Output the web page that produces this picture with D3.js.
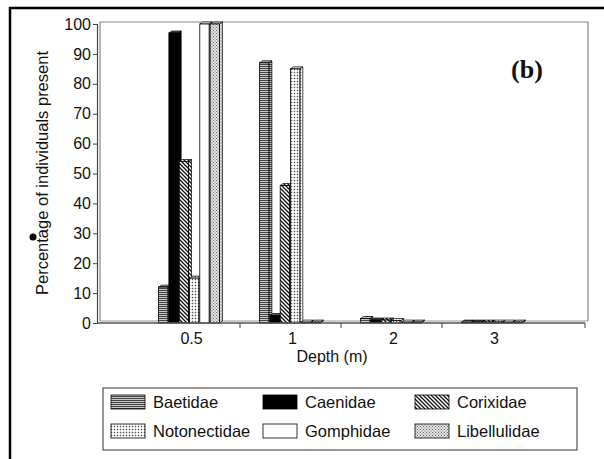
<!DOCTYPE html>
<html>
<head>
<meta charset="utf-8">
<script src="https://cdn.jsdelivr.net/npm/d3@7"></script>
<style>
  body { margin: 0; background: #fff; }
  svg text { font-family: "Liberation Sans", Arial, sans-serif; fill: #111; }
</style>
</head>
<body>
<div id="chart"></div>
<script>
'use strict';

// depth categories and the six families
const depths = ["0.5", "1", "2", "3"];
const families = ["Baetidae", "Caenidae", "Corixidae", "Notonectidae", "Gomphidae", "Libellulidae"];

// percentage of individuals present, one value per depth
const baetidae = [12, 87, 1.5, 0.3];
const caenidae = [97, 2.5, 1, 0.3];
const corixidae = [54, 46, 1, 0.3];
const notonectidae = [15, 85, 0.8, 0.3];
const gomphidae = [100, 0.3, 0.3, 0.3];
const libellulidae = [100, 0.3, 0.3, 0.3];

const yTicks = [0, 10, 20, 30, 40, 50, 60, 70, 80, 90, 100];

const series = [baetidae, caenidae, corixidae, notonectidae, gomphidae, libellulidae];
const fills = ["url(#hlines)", "#000", "url(#diag)", "url(#grid)", "#fff", "url(#stipple)"];

const width = 604, height = 459;
const plot = { left: 97, right: 588, top: 22, bottom: 323 };

const svg = d3.select("#chart").append("svg")
    .attr("width", width)
    .attr("height", height);

// patterns
const defs = svg.append("defs");
const pH = defs.append("pattern").attr("id", "hlines").attr("patternUnits", "userSpaceOnUse")
    .attr("width", 4).attr("height", 2);
pH.append("rect").attr("width", 4).attr("height", 2).attr("fill", "#c8c8c8");
pH.append("rect").attr("width", 4).attr("height", 1).attr("fill", "#444");

const pD = defs.append("pattern").attr("id", "diag").attr("patternUnits", "userSpaceOnUse")
    .attr("width", 4).attr("height", 4);
pD.append("rect").attr("width", 4).attr("height", 4).attr("fill", "#fff");
pD.append("path").attr("d", "M-1,-1 L5,5 M3,-1 L5,1 M-1,3 L1,5").attr("stroke", "#111").attr("stroke-width", 1.3);

const pG = defs.append("pattern").attr("id", "grid").attr("patternUnits", "userSpaceOnUse")
    .attr("width", 3).attr("height", 3);
pG.append("rect").attr("width", 3).attr("height", 3).attr("fill", "#fff");
pG.append("rect").attr("width", 3).attr("height", 0.6).attr("fill", "#bbb");
pG.append("rect").attr("width", 0.6).attr("height", 3).attr("fill", "#bbb");
pG.append("rect").attr("width", 1).attr("height", 1).attr("fill", "#555");

const pS = defs.append("pattern").attr("id", "stipple").attr("patternUnits", "userSpaceOnUse")
    .attr("width", 3).attr("height", 3);
pS.append("rect").attr("width", 3).attr("height", 3).attr("fill", "#e4e4e4");
pS.append("rect").attr("width", 1).attr("height", 1).attr("fill", "#666");
pS.append("rect").attr("x", 1.5).attr("y", 1.5).attr("width", 1).attr("height", 1).attr("fill", "#666");

// outer frame
svg.append("path")
    .attr("d", `M10,${height} L10,8 L${width},8`)
    .attr("fill", "none")
    .attr("stroke", "#000")
    .attr("stroke-width", 2.5);

// scales
const x0 = d3.scaleBand().domain(depths).range([139, 543]).paddingInner(0);
const x1 = d3.scaleBand().domain(families).range([0, x0.bandwidth()]).paddingOuter(1.9);
const y = d3.scaleLinear().domain([0, 100]).range([plot.bottom, plot.top + 2]);

// back wall
svg.append("path")
    .attr("d", `M${plot.left + 3},${plot.bottom - 2} L${plot.left + 3},${plot.top} L${plot.right},${plot.top} L${plot.right},${plot.bottom - 2}`)
    .attr("fill", "none")
    .attr("stroke", "#888")
    .attr("stroke-width", 1.2);
// floor
svg.append("line")
    .attr("x1", plot.left + 3).attr("x2", plot.right)
    .attr("y1", plot.bottom - 2).attr("y2", plot.bottom - 2)
    .attr("stroke", "#999");

// bars with 3D depth
const dx = 3, dy = -2;
const bw = x1.bandwidth() - 1;
const bars = svg.append("g").attr("class", "bars");
depths.forEach((dep, i) => {
    families.forEach((fam, j) => {
        const v = series[j][i];
        const xl = x0(dep) + x1(fam);
        const yt = y(v);
        const yb = y(0);
        const g = bars.append("g");
        // side
        g.append("path")
            .attr("d", `M${xl + bw},${yb} L${xl + bw + dx},${yb + dy} L${xl + bw + dx},${yt + dy} L${xl + bw},${yt} Z`)
            .attr("fill", fills[j]).attr("stroke", "#000").attr("stroke-width", 0.7);
        // top
        g.append("path")
            .attr("d", `M${xl},${yt} L${xl + dx},${yt + dy} L${xl + bw + dx},${yt + dy} L${xl + bw},${yt} Z`)
            .attr("fill", j === 1 ? "#555" : fills[j]).attr("stroke", "#000").attr("stroke-width", 0.7);
        // front
        g.append("rect")
            .attr("x", xl).attr("y", yt)
            .attr("width", bw).attr("height", yb - yt)
            .attr("fill", fills[j]).attr("stroke", "#000").attr("stroke-width", 0.8);
    });
});

// y axis
const yAxis = d3.axisLeft(y).tickValues(yTicks).tickSize(4).tickPadding(2);
const gy = svg.append("g")
    .attr("transform", `translate(${plot.left},0)`)
    .call(yAxis);
gy.select(".domain").attr("stroke", "#444").attr("stroke-width", 1.2);
gy.selectAll(".tick line").attr("stroke", "#444");
gy.selectAll(".tick text").attr("font-size", 16).style("fill", "#111");

// x axis
svg.append("line")
    .attr("x1", plot.left).attr("x2", plot.right - 3)
    .attr("y1", plot.bottom).attr("y2", plot.bottom)
    .attr("stroke", "#555").attr("stroke-width", 1.4);
svg.append("g").selectAll("line")
    .data(depths.slice(0, 3))
    .join("line")
    .attr("x1", d => x0(d) + x0.bandwidth()).attr("x2", d => x0(d) + x0.bandwidth())
    .attr("y1", plot.bottom).attr("y2", plot.bottom + 5)
    .attr("stroke", "#444");
svg.append("line")
    .attr("x1", plot.right - 3).attr("x2", plot.right - 3)
    .attr("y1", plot.bottom).attr("y2", plot.bottom + 5)
    .attr("stroke", "#444");
svg.append("g").selectAll("text")
    .data(depths)
    .join("text")
    .attr("x", d => x0(d) + x0.bandwidth() / 2 + 2)
    .attr("y", 344)
    .attr("text-anchor", "middle")
    .attr("font-size", 16)
    .text(d => d);

// axis titles
svg.append("text")
    .attr("x", 332).attr("y", 362)
    .attr("text-anchor", "middle")
    .attr("font-size", 16)
    .text("Depth (m)");
svg.append("text")
    .attr("transform", "translate(48,173) rotate(-90)")
    .attr("text-anchor", "middle")
    .attr("font-size", 16.5)
    .text("Percentage of individuals present");
// stray mark
svg.append("circle").attr("cx", 33).attr("cy", 237).attr("r", 3.5).attr("fill", "#000");

// panel label
svg.append("text")
    .attr("x", 527).attr("y", 78)
    .attr("text-anchor", "middle")
    .attr("font-size", 26)
    .attr("font-weight", "bold")
    .style("font-family", "'Liberation Serif', 'Times New Roman', serif")
    .text("(b)");

// legend
const legend = svg.append("g");
legend.append("rect")
    .attr("x", 103).attr("y", 388).attr("width", 474).attr("height", 62)
    .attr("fill", "#fff").attr("stroke", "#333").attr("stroke-width", 1);
const colX = [111, 263, 415];
const rowY = [395, 424];
families.forEach((fam, j) => {
    const cx = colX[j % 3], ry = rowY[Math.floor(j / 3)];
    legend.append("rect")
        .attr("x", cx).attr("y", ry).attr("width", 34).attr("height", 14)
        .attr("fill", fills[j]).attr("stroke", "#000").attr("stroke-width", 0.8);
    legend.append("text")
        .attr("x", cx + 42).attr("y", ry + 13)
        .attr("font-size", 16.5)
        .text(fam);
});
</script>
</body>
</html>
